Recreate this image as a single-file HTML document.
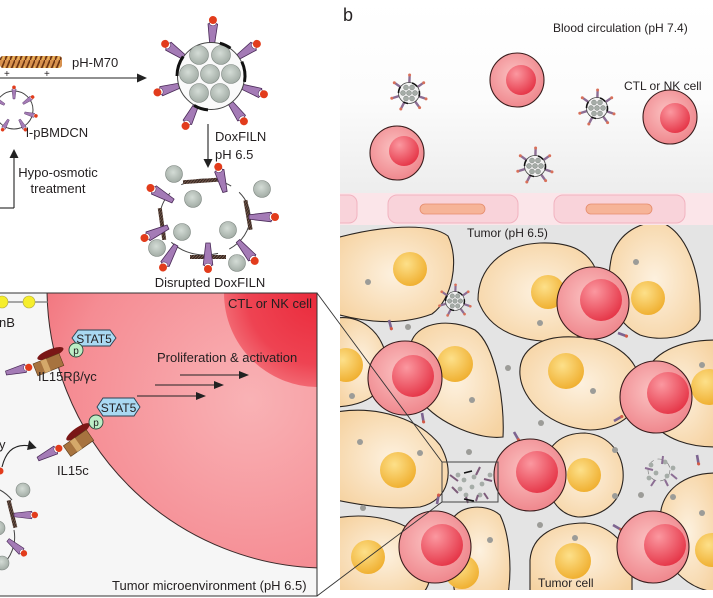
<!DOCTYPE html>
<html><head><meta charset="utf-8"><style>
html,body{margin:0;padding:0;background:#fff;}
svg{display:block;}
text{font-family:"Liberation Sans",Arial,sans-serif;fill:#231f20;}
</style></head><body>
<svg width="713" height="598" viewBox="0 0 713 598" xmlns="http://www.w3.org/2000/svg">
<defs>
<radialGradient id="ctlO" cx="0.45" cy="0.42" r="0.6"><stop offset="0" stop-color="#fbc2c2"/><stop offset="1" stop-color="#ef868c"/></radialGradient>
<radialGradient id="ctlI" cx="0.35" cy="0.3" r="0.75"><stop offset="0" stop-color="#fb98a0"/><stop offset="1" stop-color="#e53446"/></radialGradient>
<radialGradient id="tum" cx="0.5" cy="0.5" r="0.62"><stop offset="0" stop-color="#fdf1df"/><stop offset="1" stop-color="#f6d3a2"/></radialGradient>
<radialGradient id="nuc" cx="0.4" cy="0.35" r="0.7"><stop offset="0" stop-color="#fde08a"/><stop offset="1" stop-color="#efad2c"/></radialGradient>
<radialGradient id="redbig" cx="250" cy="400" r="300" gradientUnits="userSpaceOnUse"><stop offset="0" stop-color="#f9b2b5"/><stop offset="0.6" stop-color="#f58c93"/><stop offset="1" stop-color="#ee5a65"/></radialGradient>
<radialGradient id="reddark" cx="318" cy="293" r="95" gradientUnits="userSpaceOnUse"><stop offset="0" stop-color="#ea2a3b"/><stop offset="0.75" stop-color="#ee4352"/><stop offset="1" stop-color="#f26872"/></radialGradient>
<linearGradient id="blood" x1="0" y1="0" x2="0" y2="1"><stop offset="0" stop-color="#ffffff"/><stop offset="0.5" stop-color="#fcfcfc"/><stop offset="1" stop-color="#ededed"/></linearGradient>
<radialGradient id="sph" cx="0.45" cy="0.4" r="0.6"><stop offset="0" stop-color="#d4dcd6"/><stop offset="1" stop-color="#a3ada6"/></radialGradient>
<pattern id="helix" width="5" height="12" patternUnits="userSpaceOnUse"><rect width="5" height="12" fill="#d8914e"/><path d="M0,12 L5,0" stroke="#6b3412" stroke-width="1.6"/><path d="M2.5,12 L5,6" stroke="#f2d060" stroke-width="0.8"/></pattern>
<pattern id="hatch" width="3" height="3" patternUnits="userSpaceOnUse"><rect width="3" height="3" fill="#3a2a24"/><path d="M0,3 L3,0" stroke="#8a6a5a" stroke-width="0.7"/></pattern>
<clipPath id="lbox"><rect x="0" y="293" width="317" height="303"/></clipPath>
<clipPath id="rbox"><rect x="340" y="225" width="373" height="365"/></clipPath>
<g id="stk"><path d="M0,-2.2 L22,-4.8 L24,0 L22,4.8 L0,2.2 Z" fill="#a47bb6" stroke="#4a2a58" stroke-width="0.8"/><ellipse cx="22.5" cy="0" rx="2.2" ry="3.3" fill="#fff" stroke="#4a2a58" stroke-width="0.5"/><circle cx="26" cy="0" r="4" fill="#e23c1c"/></g>
<g id="np">
<g stroke="#8c6e94" stroke-width="2.4">
<line x1="0.3" y1="-8" x2="0.6" y2="-17"/><line x1="-6.6" y1="-4.6" x2="-13.9" y2="-9.8"/><line x1="6.6" y1="-4.6" x2="13.9" y2="-9.8"/><line x1="-7.6" y1="2.3" x2="-16.3" y2="5"/><line x1="7.6" y1="2.6" x2="16.1" y2="5.5"/><line x1="-3.6" y1="7.1" x2="-7.7" y2="15.1"/><line x1="4.7" y1="6.5" x2="10" y2="13.8"/>
</g>
<g fill="#d8705a"><circle cx="0.6" cy="-18" r="1.5"/><circle cx="-14.7" cy="-10.3" r="1.5"/><circle cx="14.7" cy="-10.3" r="1.5"/><circle cx="-17.2" cy="5.3" r="1.5"/><circle cx="17" cy="5.9" r="1.5"/><circle cx="-8.2" cy="16" r="1.5"/><circle cx="10.6" cy="14.6" r="1.5"/></g>
<circle r="10.5" fill="#f2f2f2" stroke="#444" stroke-width="0.8"/>
<g fill="#a5aca7" stroke="#6b716d" stroke-width="0.4"><circle cx="-3" cy="-5.5" r="2.5"/><circle cx="3" cy="-5.5" r="2.5"/><circle cx="-6" cy="0" r="2.5"/><circle cx="0" cy="0" r="2.5"/><circle cx="6" cy="0" r="2.5"/><circle cx="-3" cy="5.5" r="2.5"/><circle cx="3" cy="5.5" r="2.5"/></g>
<g fill="none" stroke="#111" stroke-width="1.6"><path d="M3,-10 A10.5,10.5 0 0 1 8,-6.5"/><path d="M10.3,-2 A10.5,10.5 0 0 1 10,3.5"/><path d="M-10.5,0 A10.5,10.5 0 0 1 -8.6,-6"/><path d="M-1,10.5 A10.5,10.5 0 0 1 -5.5,9"/></g>
</g>
<g id="rod"><line x1="0" y1="0" x2="8" y2="0" stroke="#7d6490" stroke-width="2.6"/><circle cx="9" cy="0" r="1.6" fill="#d35a48"/></g>
</defs>

<!-- ===== TOP LEFT ===== -->
<rect x="0" y="56" width="62" height="12" rx="3" fill="url(#helix)"/>
<text x="4" y="77" font-size="10">+</text>
<text x="44" y="77" font-size="10">+</text>
<text x="72" y="67" font-size="13">pH-M70</text>
<line x1="0" y1="78" x2="139" y2="78" stroke="#222" stroke-width="1.1"/>
<polygon points="147,78 137,73.5 137,82.5" fill="#222"/>

<!-- l-pBMDCN -->
<circle cx="14" cy="110" r="19" fill="none" stroke="#444" stroke-width="1"/>
<use href="#stk" transform="translate(14,110) rotate(-90) translate(11,0) scale(0.45)"/>
<use href="#stk" transform="translate(14,110) rotate(-35) translate(11,0) scale(0.45)"/>
<use href="#stk" transform="translate(14,110) rotate(15) translate(11,0) scale(0.45)"/>
<use href="#stk" transform="translate(14,110) rotate(60) translate(11,0) scale(0.45)"/>
<use href="#stk" transform="translate(14,110) rotate(120) translate(11,0) scale(0.45)"/>
<use href="#stk" transform="translate(14,110) rotate(-150) translate(11,0) scale(0.45)"/>
<text x="26" y="137" font-size="13">l-pBMDCN</text>

<line x1="14" y1="208" x2="14" y2="156" stroke="#222" stroke-width="1.1"/>
<polygon points="14,149 9.5,158 18.5,158" fill="#222"/>
<line x1="0" y1="208" x2="14" y2="208" stroke="#222" stroke-width="1.1"/>
<text x="58" y="177" font-size="13" text-anchor="middle">Hypo-osmotic</text>
<text x="58" y="193" font-size="13" text-anchor="middle">treatment</text>

<!-- DoxFILN -->
<g>
<use href="#stk" transform="translate(211,76) rotate(-88) translate(30,0)"/>
<use href="#stk" transform="translate(211,76) rotate(-145) translate(30,0)"/>
<use href="#stk" transform="translate(211,76) rotate(-35) translate(30,0)"/>
<use href="#stk" transform="translate(211,76) rotate(163) translate(30,0)"/>
<use href="#stk" transform="translate(211,76) rotate(19) translate(30,0)"/>
<use href="#stk" transform="translate(211,76) rotate(117) translate(30,0)"/>
<use href="#stk" transform="translate(211,76) rotate(54) translate(30,0)"/>
<circle cx="211" cy="76" r="33.5" fill="#fafafa" stroke="#444" stroke-width="1"/>
<g fill="url(#sph)" stroke="#7d8680" stroke-width="0.6">
<circle cx="199" cy="55" r="9.5"/><circle cx="221" cy="55" r="9.5"/><circle cx="189" cy="74" r="9.5"/><circle cx="210" cy="74" r="9.5"/><circle cx="231" cy="74" r="9.5"/><circle cx="199" cy="93" r="9.5"/><circle cx="220" cy="93" r="9.5"/>
</g>
<g fill="none" stroke="#111" stroke-width="3">
<path d="M219.8,43.2 A34,34 0 0 1 230.5,48.2"/>
<path d="M241.8,61.6 A34,34 0 0 1 244.5,81.9"/>
<path d="M177,76 A34,34 0 0 1 183.2,56.5"/>
<path d="M208,109.9 A34,34 0 0 1 194,105.4"/>
</g>
</g>
<line x1="208" y1="124" x2="208" y2="160" stroke="#222" stroke-width="1.1"/>
<polygon points="208,168 203.5,159 212.5,159" fill="#222"/>
<text x="215" y="141" font-size="13">DoxFILN</text>
<text x="215" y="159" font-size="13">pH 6.5</text>

<!-- Disrupted DoxFILN -->
<ellipse cx="205" cy="217" rx="45" ry="38" fill="none" stroke="#444" stroke-width="1" stroke-dasharray="40 12 50 10 45 14 52 10"/>
<g fill="url(#sph)" stroke="#7d8680" stroke-width="0.6">
<circle cx="174" cy="174" r="8.5"/><circle cx="193" cy="199" r="8.5"/><circle cx="262" cy="189" r="8.5"/><circle cx="182" cy="232" r="8.5"/><circle cx="228" cy="230" r="8.5"/><circle cx="157" cy="248" r="8.5"/><circle cx="237" cy="263" r="8.5"/>
</g>
<rect x="183" y="179" width="36" height="4" fill="url(#hatch)" transform="rotate(-4 200 181)"/>
<rect x="246" y="200" width="4" height="30" fill="url(#hatch)" transform="rotate(-10 248 215)"/>
<rect x="160" y="208" width="4" height="32" fill="url(#hatch)" transform="rotate(-8 162 224)"/>
<rect x="190" y="255" width="36" height="4" fill="url(#hatch)"/>
<use href="#stk" transform="translate(173,201) rotate(-150) translate(0,0)"/>
<use href="#stk" transform="translate(225,192) rotate(-105)"/>
<use href="#stk" transform="translate(249,217) rotate(0)"/>
<use href="#stk" transform="translate(168,227) rotate(155)"/>
<use href="#stk" transform="translate(176,245) rotate(120)"/>
<use href="#stk" transform="translate(208,243) rotate(90)"/>
<use href="#stk" transform="translate(238,241) rotate(50)"/>
<text x="210" y="287" font-size="13" text-anchor="middle">Disrupted DoxFILN</text>

<!-- ===== BOTTOM LEFT PANEL ===== -->
<rect x="0" y="293" width="317" height="303" fill="#f6f6f6"/>
<g clip-path="url(#lbox)">
<circle cx="327" cy="288" r="280" fill="url(#redbig)" stroke="#3a2a2a" stroke-width="1"/>
<circle cx="318" cy="293" r="94" fill="url(#reddark)"/>
</g>
<line x1="0" y1="302" x2="48" y2="302" stroke="#777" stroke-width="1.2"/>
<circle cx="2" cy="302" r="6" fill="#f6ee2c" stroke="#b0a840" stroke-width="0.6"/>
<circle cx="29" cy="302" r="6" fill="#f6ee2c" stroke="#b0a840" stroke-width="0.6"/>
<text x="-1" y="327" font-size="13">nB</text>
<text x="228" y="308" font-size="13">CTL or NK cell</text>

<!-- receptor 1 -->
<g transform="translate(46,364) rotate(-22)">
<ellipse cx="8" cy="-8" rx="14" ry="4.2" fill="#7a1616"/>
<rect x="-12" y="-5" width="28" height="13" fill="#a7733f" stroke="#5a3a1a" stroke-width="0.6"/>
<rect x="-4" y="-5" width="6" height="13" fill="#d4a86a"/>
</g>
<use href="#stk" transform="translate(6,373) rotate(-14) scale(0.9)"/>
<polygon points="72,338 78,330 110,330 116,338 110,346 78,346" fill="#a9d9f2" stroke="#2a4050" stroke-width="0.9"/>
<text x="94" y="343" font-size="12" text-anchor="middle">STAT5</text>
<circle cx="76" cy="350" r="7" fill="#bdeec6" stroke="#2a4a3a" stroke-width="0.9"/>
<text x="76" y="354" font-size="10" text-anchor="middle">p</text>
<text x="38" y="381" font-size="13">IL15Rβ/γc</text>

<text x="157" y="362" font-size="13">Proliferation &amp; activation</text>
<g stroke="#222" stroke-width="1.1">
<line x1="180" y1="375" x2="242" y2="375"/><line x1="155" y1="385" x2="217" y2="385"/><line x1="137" y1="396" x2="199" y2="396"/>
</g>
<g fill="#222"><polygon points="249,375 239,371 239,379"/><polygon points="224,385 214,381 214,389"/><polygon points="206,396 196,392 196,400"/></g>

<!-- receptor 2 -->
<g transform="translate(76,443) rotate(-35)">
<ellipse cx="8" cy="-8" rx="14" ry="4.2" fill="#7a1616"/>
<rect x="-12" y="-5" width="28" height="13" fill="#a7733f" stroke="#5a3a1a" stroke-width="0.6"/>
<rect x="-4" y="-5" width="6" height="13" fill="#d4a86a"/>
</g>
<use href="#stk" transform="translate(38,459) rotate(-27) scale(0.9)"/>
<polygon points="97,407 103,398 134,398 140,407 134,416 103,416" fill="#a9d9f2" stroke="#2a4050" stroke-width="0.9"/>
<text x="118.5" y="412" font-size="12" text-anchor="middle">STAT5</text>
<circle cx="96" cy="422" r="7" fill="#bdeec6" stroke="#2a4a3a" stroke-width="0.9"/>
<text x="96" y="426" font-size="10" text-anchor="middle">p</text>
<text x="57" y="475" font-size="13">IL15c</text>

<text x="-1" y="449" font-size="13">y</text>
<path d="M2,467 Q8,442 30,446" fill="none" stroke="#222" stroke-width="1.1"/>
<polygon points="37,447 28,441 28,451" fill="#222" transform="rotate(12 32 446)"/>
<circle cx="0" cy="471" r="3.5" fill="#e23c1c"/>

<!-- bottom-left broken vesicle -->
<path d="M0,490 A40,40 0 0 1 12,500" fill="none" stroke="#444" stroke-width="1"/>
<path d="M14,530 A38,38 0 0 1 0,567" fill="none" stroke="#444" stroke-width="1"/>
<g fill="url(#sph)" stroke="#7d8680" stroke-width="0.6"><circle cx="23" cy="490" r="7"/><circle cx="-2" cy="528" r="7"/><circle cx="2" cy="563" r="7"/></g>
<rect x="10" y="500" width="4" height="28" fill="url(#hatch)" transform="rotate(-14 12 514)"/>
<use href="#stk" transform="translate(14,515) rotate(0) scale(0.8)"/>
<use href="#stk" transform="translate(8,540) rotate(40) scale(0.8)"/>

<text x="112" y="590" font-size="13">Tumor microenvironment (pH 6.5)</text>
<rect x="-1" y="293" width="318" height="303" fill="none" stroke="#333" stroke-width="1"/>

<!-- ===== RIGHT PANEL ===== -->
<rect x="340" y="0" width="373" height="193" fill="url(#blood)"/>
<text x="343" y="21" font-size="18">b</text>
<text x="553" y="32" font-size="12">Blood circulation (pH 7.4)</text>
<text x="624" y="90" font-size="12">CTL or NK cell</text>

<g stroke="#3a1c1c" stroke-width="1.1">
<circle cx="517" cy="80" r="27" fill="url(#ctlO)"/><circle cx="670" cy="117" r="27" fill="url(#ctlO)"/><circle cx="397" cy="153" r="27" fill="url(#ctlO)"/>
</g>
<circle cx="521" cy="80" r="15" fill="url(#ctlI)"/>
<circle cx="675" cy="118" r="15" fill="url(#ctlI)"/>
<circle cx="404" cy="151" r="15" fill="url(#ctlI)"/>
<use href="#np" transform="translate(409,93)"/>
<use href="#np" transform="translate(597,108)"/>
<use href="#np" transform="translate(535,166)"/>

<!-- vessel -->
<rect x="340" y="193" width="373" height="32" fill="#fbe5e9"/>
<rect x="320" y="195" width="37" height="28" rx="8" fill="#f9d3da" stroke="#f1b3c0" stroke-width="1"/>
<rect x="388" y="195" width="130" height="28" rx="9" fill="#f9d3da" stroke="#f1b3c0" stroke-width="1"/>
<rect x="554" y="195" width="131" height="28" rx="9" fill="#f9d3da" stroke="#f1b3c0" stroke-width="1"/>
<rect x="420" y="204" width="65" height="10" rx="5" fill="#f6b498" stroke="#e58c6c" stroke-width="0.8"/>
<rect x="586" y="204" width="66" height="10" rx="5" fill="#f6b498" stroke="#e58c6c" stroke-width="0.8"/>
<rect x="318" y="190" width="22" height="38" fill="#fff"/>

<!-- tumor region -->
<rect x="340" y="225" width="373" height="365" fill="#e4e4e4"/>
<g clip-path="url(#rbox)">
<g fill="url(#tum)" stroke="#2a2420" stroke-width="1.1">
<path d="M336,238 C380,226 430,222 448,236 C460,260 452,300 432,314 C400,326 365,322 336,314 Z"/>
<path d="M478,300 C478,270 500,245 540,243 C570,242 590,250 598,275 C605,300 600,330 570,340 C530,345 490,335 478,300 Z"/>
<path d="M612,255 C620,232 640,222 660,222 C685,230 702,270 700,320 C692,338 660,342 640,335 C610,320 605,285 612,255 Z"/>
<path d="M336,318 C360,315 382,330 387,360 C390,385 375,405 336,407 Z"/>
<path d="M412,340 C420,322 450,318 475,330 C495,345 505,400 503,437 C480,440 440,425 420,400 C405,380 404,360 412,340 Z"/>
<path d="M520,375 C518,350 540,335 575,337 C610,338 635,355 640,380 C645,410 620,430 590,430 C550,428 522,400 520,375 Z"/>
<path d="M643,380 C650,352 680,340 716,340 L716,447 C690,447 665,440 650,420 C642,405 641,392 643,380 Z"/>
<path d="M336,412 C380,405 420,420 440,445 C455,470 450,500 420,507 C390,510 360,505 336,500 Z"/>
<path d="M545,470 C545,445 562,433 585,433 C610,435 625,455 623,480 C620,505 600,517 578,517 C558,515 545,495 545,470 Z"/>
<path d="M660,520 C660,490 685,473 716,473 L716,592 C690,590 670,570 663,550 Z"/>
<path d="M336,518 C370,512 410,520 428,545 C435,565 430,592 420,594 L336,594 Z"/>
<path d="M450,525 C455,505 485,502 500,515 C510,535 512,570 508,594 L455,594 C450,565 448,545 450,525 Z"/>
<path d="M530,560 C532,535 555,523 585,523 C610,525 630,545 632,570 L632,594 L530,594 Z"/>
</g>
<g fill="url(#nuc)">
<circle cx="410" cy="269" r="17"/><circle cx="548" cy="292" r="17"/><circle cx="648" cy="298" r="17"/><circle cx="346" cy="365" r="17"/><circle cx="455" cy="364" r="18"/><circle cx="566" cy="371" r="18"/><circle cx="709" cy="387" r="18"/><circle cx="398" cy="470" r="18"/><circle cx="584" cy="475" r="17"/><circle cx="368" cy="557" r="17"/><circle cx="462" cy="572" r="17"/><circle cx="573" cy="561" r="18"/><circle cx="712" cy="550" r="17"/>
</g>
<g fill="#9c9c98"><circle cx="368" cy="282" r="3"/><circle cx="636" cy="262" r="3"/><circle cx="408" cy="327" r="3"/><circle cx="352" cy="396" r="3"/><circle cx="472" cy="400" r="3"/><circle cx="593" cy="391" r="3"/><circle cx="508" cy="368" r="3"/><circle cx="540" cy="323" r="3"/><circle cx="702" cy="365" r="3"/><circle cx="360" cy="442" r="3"/><circle cx="420" cy="453" r="3"/><circle cx="469" cy="452" r="3"/><circle cx="615" cy="450" r="3"/><circle cx="541" cy="423" r="3"/><circle cx="641" cy="495" r="3"/><circle cx="673" cy="497" r="3"/><circle cx="702" cy="513" r="3"/><circle cx="363" cy="508" r="3"/><circle cx="490" cy="540" r="3"/><circle cx="575" cy="538" r="3"/><circle cx="540" cy="525" r="3"/><circle cx="615" cy="496" r="3"/></g>
<use href="#np" transform="translate(455,301) scale(0.9)"/>
<g transform="translate(659,470)">
<circle r="11" fill="none" stroke="#777" stroke-width="0.6" stroke-dasharray="6 4"/>
<g fill="#a5aca7"><circle cx="-8" cy="-5" r="2.4"/><circle cx="6" cy="-8" r="2.4"/><circle cx="-3" cy="3" r="2.4"/><circle cx="8" cy="6" r="2.4"/><circle cx="-10" cy="8" r="2.4"/><circle cx="14" cy="-2" r="2.4"/></g>
<g stroke="#8c6e94" stroke-width="2"><line x1="-14" y1="-2" x2="-6" y2="0"/><line x1="4" y1="-14" x2="3" y2="-6"/><line x1="12" y1="4" x2="18" y2="9"/><line x1="-4" y1="10" x2="-8" y2="16"/><line x1="6" y1="10" x2="9" y2="16"/></g>
</g>
<g transform="translate(470,483)">
<g fill="#a5aca7"><circle cx="-12" cy="-8" r="2.4"/><circle cx="-6" cy="-3" r="2.4"/><circle cx="4" cy="-6" r="2.4"/><circle cx="-10" cy="6" r="2.4"/><circle cx="2" cy="4" r="2.4"/><circle cx="12" cy="1" r="2.4"/><circle cx="-4" cy="12" r="2.4"/><circle cx="10" cy="12" r="2.4"/><circle cx="20" cy="-8" r="2.4"/></g>
<g stroke="#7d5c7a" stroke-width="2"><line x1="-20" y1="-8" x2="-12" y2="-2"/><line x1="10" y1="-16" x2="6" y2="-8"/><line x1="14" y1="-4" x2="22" y2="-2"/><line x1="-18" y1="4" x2="-12" y2="10"/><line x1="-4" y1="14" x2="-2" y2="20"/><line x1="14" y1="10" x2="18" y2="16"/><line x1="6" y1="18" x2="8" y2="12"/></g>
<g stroke="#111" stroke-width="1.5"><line x1="-6" y1="-10" x2="2" y2="-12"/><line x1="-6" y1="16" x2="4" y2="18"/></g>
</g>
<use href="#rod" transform="translate(389,320) rotate(75)"/>
<use href="#rod" transform="translate(618,333) rotate(20)"/>
<use href="#rod" transform="translate(422,413) rotate(80)"/>
<use href="#rod" transform="translate(514,432) rotate(60)"/>
<use href="#rod" transform="translate(614,421) rotate(-30)"/>
<use href="#rod" transform="translate(697,455) rotate(80)"/>
<use href="#rod" transform="translate(437,504) rotate(-80)"/>
<use href="#rod" transform="translate(613,525) rotate(30)"/>
<use href="#rod" transform="translate(655,418) rotate(-10)"/>

<g stroke="#3a1c1c" stroke-width="1.1" fill="url(#ctlO)">
<circle cx="593" cy="303" r="36"/><circle cx="405" cy="378" r="37"/><circle cx="656" cy="397" r="36"/><circle cx="530" cy="475" r="36"/><circle cx="435" cy="547" r="36"/><circle cx="653" cy="547" r="36"/>
</g>
<g fill="url(#ctlI)">
<circle cx="601" cy="300" r="21"/><circle cx="413" cy="376" r="21"/><circle cx="668" cy="393" r="21"/><circle cx="537" cy="472" r="21"/><circle cx="442" cy="545" r="21"/><circle cx="665" cy="545" r="21"/>
</g>
</g>
<text x="467" y="237" font-size="12">Tumor (pH 6.5)</text>
<text x="538" y="587" font-size="12">Tumor cell</text>

<!-- zoom rectangle and connector lines -->
<rect x="442" y="462" width="56" height="40" fill="none" stroke="#444" stroke-width="1"/>
<line x1="317" y1="293" x2="442" y2="462" stroke="#333" stroke-width="0.9"/>
<line x1="317" y1="596" x2="442" y2="502" stroke="#333" stroke-width="0.9"/>
</svg>
</body></html>
